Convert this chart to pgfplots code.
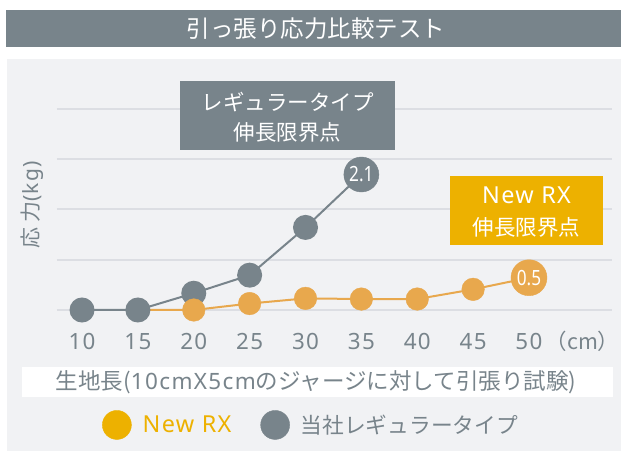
\documentclass[border=0pt]{standalone}
\usepackage{fontspec}
\setmainfont{Noto Sans CJK JP}
\newfontfamily\lat{Noto Sans}[LetterSpace=6]
\newfontfamily\latb{Noto Sans}
\usepackage{graphicx}
\usepackage{pgfplots}
\pgfplotsset{compat=1.18}
\definecolor{cgray}{HTML}{78848B}
\definecolor{cpanel}{HTML}{F1F2F4}
\definecolor{cgrid}{HTML}{DCDEE3}
\definecolor{corange}{HTML}{E8A84D}
\definecolor{cyellow}{HTML}{EDB100}
\begin{document}
\begin{tikzpicture}[x=1pt,y=1pt]
\useasboundingbox (0,0) rectangle (621,452);
\fill[white] (0,0) rectangle (621,452);
\fill[cgray] (6,404.5) rectangle (621,442);
\node[text=white, font=\fontsize{23.5}{28}\selectfont, inner sep=0pt] at (316,423) {引っ張り応力比較テスト};
\fill[cpanel] (6.5,1) rectangle (621,393);
\fill[white] (22,55) rectangle (613,85);
\node[text=cgray, font=\fontsize{22.5}{26}\selectfont, inner sep=0pt] at (316,70) {生地長({\lat 10cmX5cm}のジャージに対して引張り試験)};
\node[text=cgray, font=\fontsize{21}{25}\selectfont, rotate=90, inner sep=0pt] at (32,247) {応 力{\lat(kg)}};
\begin{axis}[
  at={(57pt,142pt)}, anchor=south west, scale only axis,
  width=555pt, height=201.3pt,
  xmin=7.76, xmax=57.43, ymin=0, ymax=3.12,
  clip=false,
  axis line style={draw=none},
  major tick length=0pt,
  xtick={10,15,20,25,30,35,40,45,50},
  ytick={0,0.78,1.56,2.34,3.12},
  yticklabels={},
  ymajorgrids, grid style={cgrid, line width=2.2pt},
  /pgf/number format/assume math mode=true,
  xticklabel style={font=\lat\fontsize{22.4}{26}\selectfont, text=cgray, inner sep=0pt, anchor=north, yshift=-23pt},
  legend columns=2,
  legend style={at={(0.4577,-0.571)}, anchor=center, draw=none, fill=none,
    font=\fontsize{21.7}{26}\selectfont, column sep=9pt,
    /tikz/every even column/.append style={column sep=27pt}},
]
% orange line (under gray)
\addplot[corange, line width=2pt, no marks, forget plot] coordinates {
  (15,0) (20,0) (25,0.10) (30,0.18) (35,0.17) (40,0.17) (45,0.32) (50,0.5)};
% gray line with marks
\addplot[cgray, line width=2pt, mark=*, mark size=11.5pt, mark indices={1,2,3,4,5},
  mark options={draw=none, fill=cgray}, forget plot] coordinates {
  (10,0) (15,0) (20,0.26) (25,0.54) (30,1.28) (35,2.1)};
% gray end point
\addplot[cgray, only marks, mark=*, mark size=17.5pt, mark options={draw=none, fill=cgray},
  point meta=y, nodes near coords={\scalebox{0.82}[1]{\pgfmathprintnumber{\pgfplotspointmeta}}},
  nodes near coords style={anchor=center, text=white, inner sep=0pt, font=\latb\bfseries\fontsize{21}{24}\selectfont},
  forget plot] coordinates {(35,2.1)};
% orange marks
\addplot[corange, only marks, mark=*, mark size=11.3pt, mark options={draw=none, fill=corange}, forget plot] coordinates {
  (20,0) (25,0.10) (30,0.18) (35,0.17) (40,0.17) (45,0.32)};
% orange end point
\addplot[corange, only marks, mark=*, mark size=18pt, mark options={draw=none, fill=corange},
  point meta=y, nodes near coords={\scalebox{0.82}[1]{\pgfmathprintnumber{\pgfplotspointmeta}}},
  nodes near coords style={anchor=center, text=white, inner sep=0pt, font=\latb\bfseries\fontsize{21}{24}\selectfont},
  forget plot] coordinates {(50,0.5)};
\addlegendimage{legend image code/.code={\fill[cyellow] (14.5pt,0pt) circle (14.5pt);}}
\addlegendentry{\textcolor{cyellow}{\lat\fontsize{23.4}{28}\selectfont New RX}}
\addlegendimage{legend image code/.code={\fill[cgray] (14.5pt,0pt) circle (14.5pt);}}
\addlegendentry{\textcolor{cgray}{当社レギュラータイプ}}
\end{axis}
\fill[cgray] (180,302) rectangle (395,371);
\node[text=white, font=\fontsize{21.5}{26}\selectfont, inner sep=0pt] at (287.5,350) {レギュラータイプ};
\node[text=white, font=\fontsize{21.5}{26}\selectfont, inner sep=0pt] at (287.5,320) {伸長限界点};
\fill[cyellow] (450,207) rectangle (603,276);
\node[text=white, font=\lat\fontsize{23.4}{28}\selectfont, inner sep=0pt] at (526.5,257) {New RX};
\node[text=white, font=\fontsize{21.5}{26}\selectfont, inner sep=0pt] at (526.5,225) {伸長限界点};
\node[text=cgray, font=\fontsize{21.5}{26}\selectfont, inner sep=0pt] at (582.5,111) {（cm）};
\end{tikzpicture}
\end{document}
